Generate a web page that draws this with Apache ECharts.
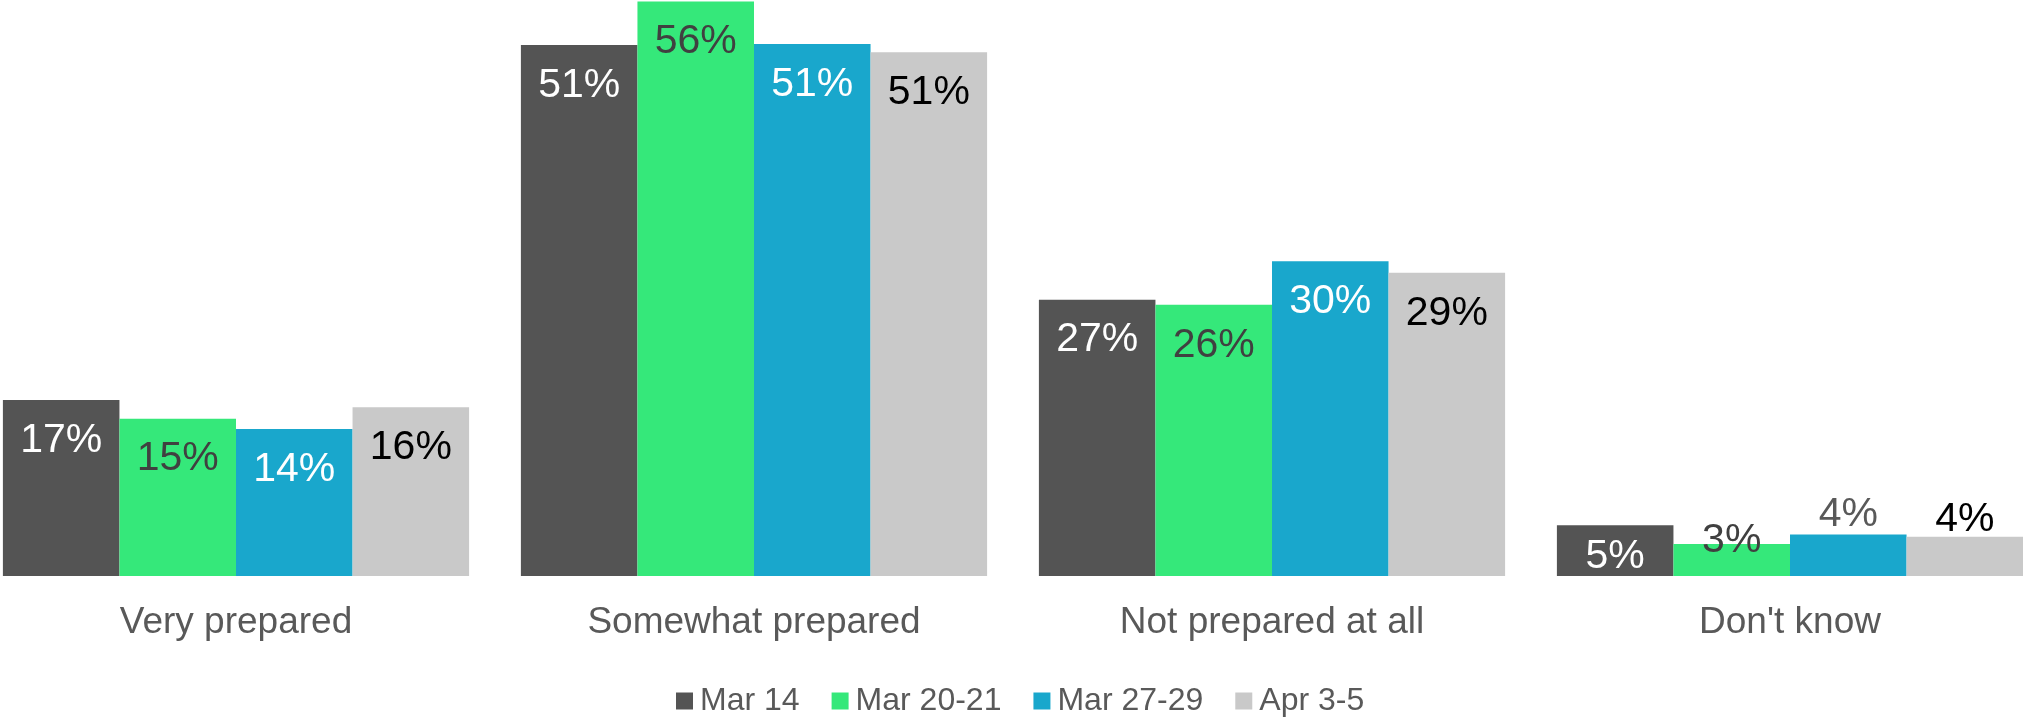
<!DOCTYPE html>
<html>
<head>
<meta charset="utf-8">
<script src="https://cdn.jsdelivr.net/npm/echarts@6/dist/echarts.min.js"></script>
<style>
  html, body { margin: 0; padding: 0; background: #ffffff; }
  #chart { width: 2023px; height: 721px; }
</style>
</head>
<body>
<div id="chart"></div>
<script>
// ---- data ----
const categories = ['Very prepared', 'Somewhat prepared', 'Not prepared at all', "Don't know"];
const seriesNames = ['Mar 14', 'Mar 20-21', 'Mar 27-29', 'Apr 3-5'];
const mar14    = [17.0, 51.3, 26.7, 4.9];
const mar2021  = [15.2, 55.5, 26.2, 3.1];
const mar2729  = [14.2, 51.4, 30.4, 4.0];
const apr35    = [16.3, 50.6, 29.3, 3.8];
const seriesValues = [mar14, mar2021, mar2729, apr35];

// ---- styles ----
const barColors = ['#545454', '#35E87A', '#19A7CC', '#C9C9C9'];
const labelColors = ['#ffffff', '#404040', '#ffffff', '#000000'];
const FONT = '"Liberation Sans", Arial, Helvetica, sans-serif';

function labelFor(si, ci) {
  const base = { show: true, fontFamily: FONT, fontSize: 41, color: labelColors[si],
    position: 'insideTop', distance: 20,
    formatter: p => Math.round(p.value) + '%' };
  if (ci === 3) {
    if (si === 0) { base.distance = 11; }
    else if (si === 1) { base.position = 'top'; base.distance = -17; }
    else if (si === 2) { base.position = 'top'; base.distance = -1; base.color = '#595959'; }
    else { base.position = 'top'; base.distance = -4; }
  }
  return base;
}

const series = seriesNames.map((name, si) => ({
  name: name,
  type: 'bar',
  barGap: '0%',
  barCategoryGap: '10%',
  itemStyle: { color: barColors[si] },
  data: seriesValues[si].map((v, ci) => ({ value: v, label: labelFor(si, ci) })),
  animation: false
}));

const chart = echarts.init(document.getElementById('chart'), null, { renderer: 'canvas' });
chart.setOption({
  animation: false,
  backgroundColor: '#ffffff',
  textStyle: { fontFamily: FONT },
  grid: { left: -23, width: 2072, top: 0, bottom: 145, containLabel: false, outerBoundsMode: 'none' },
  legend: {
    data: seriesNames,
    left: 671, top: 680,
    icon: 'rect', itemWidth: 17, itemHeight: 17, itemGap: 32,
    textStyle: { fontFamily: FONT, fontSize: 32, color: '#595959', padding: [0, 0, 0, 2] }
  },
  xAxis: {
    type: 'category',
    data: categories,
    axisLine: { show: false },
    axisTick: { show: false },
    axisLabel: { fontFamily: FONT, fontSize: 37, color: '#595959', margin: 28, interval: 0 }
  },
  yAxis: { type: 'value', min: 0, max: 55.65, show: false, splitLine: { show: false } },
  series: series
});
</script>
</body>
</html>
